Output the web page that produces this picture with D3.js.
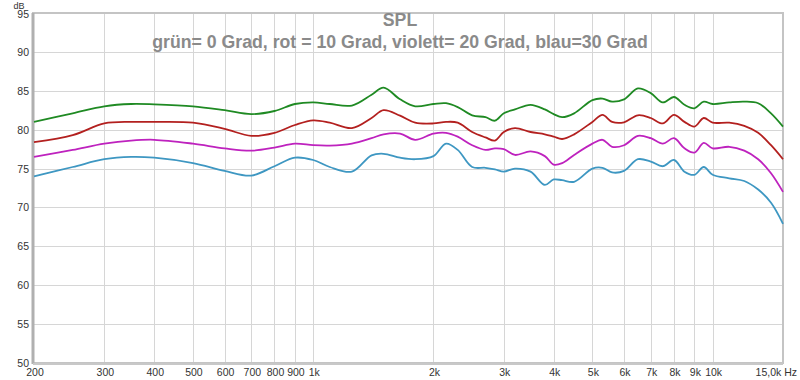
<!DOCTYPE html>
<html>
<head>
<meta charset="utf-8">
<script src="https://cdn.jsdelivr.net/npm/d3@7"></script>
<style>
  body { margin: 0; background: #fff; }
  svg { font-family: "Liberation Sans", Arial, sans-serif; }
</style>
</head>
<body>
<script>
// frequencies (Hz) shared by all four curves
var freqs = [200, 250, 300, 350, 400, 500, 600, 700, 800, 900, 1000, 1100, 1250, 1400, 1500, 1650, 1800,
             2000, 2150, 2300, 2500, 2700, 2850, 3000, 3200, 3500, 3800, 4000, 4200, 4500, 5000, 5300, 5600,
             6000, 6500, 7000, 7500, 8000, 8500, 9000, 9500, 10000, 11000, 12000, 13000, 14000, 15000];

// SPL in dB
var green0 = [81.0, 82.1, 83.0, 83.3, 83.25, 83.0, 82.5, 82.0, 82.4, 83.3, 83.5, 83.3, 83.1, 84.5, 85.4, 83.9, 83.0,
              83.3, 83.4, 82.9, 81.85, 81.6, 81.15, 82.1, 82.6, 83.2, 82.6, 82.0, 81.6, 82.1, 83.8, 84.0, 83.6,
              83.9, 85.3, 84.7, 83.5, 84.2, 83.2, 82.75, 83.6, 83.3, 83.5, 83.6, 83.4, 82.1, 80.4];
var red10 = [78.4, 79.3, 80.8, 81.0, 81.0, 80.9, 80.1, 79.2, 79.6, 80.6, 81.2, 80.9, 80.2, 81.5, 82.5, 81.8, 80.9,
             80.8, 81.0, 80.9, 79.7, 79.0, 78.6, 79.7, 80.2, 79.7, 79.4, 79.1, 78.8, 79.4, 81.0, 81.9, 81.0,
             80.95, 81.85, 81.5, 80.8, 81.9, 81.0, 80.4, 81.5, 80.9, 80.9, 80.5, 79.6, 78.0, 76.2];
var violet20 = [76.5, 77.4, 78.2, 78.6, 78.7, 78.2, 77.6, 77.3, 77.7, 78.2, 78.0, 77.95, 78.2, 78.9, 79.4, 79.5, 78.7,
                79.5, 79.6, 79.1, 78.0, 77.4, 77.6, 77.5, 76.75, 77.2, 76.6, 75.5, 75.7, 76.75, 78.2, 78.7, 77.8,
                78.0, 79.2, 78.9, 78.2, 78.9, 77.6, 77.05, 78.3, 77.6, 77.8, 77.3, 76.2, 74.4, 72.0];
var blue30 = [74.0, 75.2, 76.2, 76.5, 76.4, 75.7, 74.7, 74.1, 75.3, 76.4, 76.1, 75.2, 74.6, 76.7, 76.9, 76.4, 76.2,
              76.6, 78.2, 77.4, 75.2, 75.1, 74.9, 74.6, 75.0, 74.6, 72.9, 73.6, 73.5, 73.3, 75.0, 75.1, 74.5,
              74.7, 76.2, 75.9, 75.3, 76.1, 74.6, 74.2, 75.2, 74.2, 73.75, 73.4, 72.3, 70.6, 67.9];

var seriesNames = ["grün 0 Grad", "rot 10 Grad", "violett 20 Grad", "blau 30 Grad"];
var seriesColors = ["#1f8a23", "#b3201f", "#be22be", "#3e97c2"];

var xTicks = [200, 300, 400, 500, 600, 700, 800, 900, 1000, 2000, 3000, 4000, 5000, 6000, 7000, 8000, 9000, 10000];
var xTickLabels = ["200", "300", "400", "500", "600", "700", "800", "900", "1k", "2k", "3k", "4k", "5k", "6k", "7k", "8k", "9k", "10k"];
var yTicks = [50, 55, 60, 65, 70, 75, 80, 85, 90, 95];

var w = 800, h = 380;
var plotL = 34, plotR = 783, plotT = 13, plotB = 363;

var x = d3.scaleLog().domain([200, 15000]).range([plotL, plotR]);
var y = d3.scaleLinear().domain([50, 95]).range([plotB, plotT]);

var svg = d3.select("body").append("svg")
    .attr("width", w)
    .attr("height", h);

// grid
var grid = svg.append("g").attr("stroke", "#d6d6d6").attr("stroke-width", 1);
grid.selectAll("line.v")
    .data(xTicks.slice(1))
    .enter().append("line")
    .attr("x1", d => Math.round(x(d)) + 0.5)
    .attr("x2", d => Math.round(x(d)) + 0.5)
    .attr("y1", plotT)
    .attr("y2", plotB);
grid.selectAll("line.h")
    .data(yTicks.slice(1, -1))
    .enter().append("line")
    .attr("x1", plotL)
    .attr("x2", plotR)
    .attr("y1", d => Math.round(y(d)) + 0.5)
    .attr("y2", d => Math.round(y(d)) + 0.5);

// frame
svg.append("rect")
    .attr("x", plotL - 1)
    .attr("y", plotT)
    .attr("width", plotR - plotL + 1)
    .attr("height", plotB - plotT)
    .attr("fill", "none")
    .attr("stroke", "#c4c4c4")
    .attr("stroke-width", 2);
svg.append("line")
    .attr("x1", plotL - 1).attr("x2", plotL - 1)
    .attr("y1", plotT).attr("y2", plotB + 1)
    .attr("stroke", "#b0b0b0").attr("stroke-width", 3);
svg.append("line")
    .attr("x1", plotL - 1).attr("x2", plotR)
    .attr("y1", plotB + 1).attr("y2", plotB + 1)
    .attr("stroke", "#c8c8c8").attr("stroke-width", 2);

// curves
var line = d3.line()
    .x((d, i) => x(freqs[i]))
    .y(d => y(d))
    .curve(d3.curveCatmullRom.alpha(0.5));

svg.append("g")
    .selectAll("path")
    .data([green0, red10, violet20, blue30])
    .enter().append("path")
    .attr("d", line)
    .attr("fill", "none")
    .attr("stroke", (d, i) => seriesColors[i])
    .attr("stroke-width", 1.8)
    .attr("stroke-linejoin", "round");

// y labels
svg.append("g")
    .selectAll("text")
    .data(yTicks)
    .enter().append("text")
    .attr("x", 29)
    .attr("y", d => y(d) + (d === 95 ? 5 : 4))
    .attr("text-anchor", "end")
    .attr("font-size", 10.5)
    .attr("fill", "#333")
    .text(d => d);

svg.append("text")
    .attr("x", 19).attr("y", 8.5)
    .attr("text-anchor", "middle")
    .attr("font-size", 9)
    .attr("fill", "#333")
    .text("dB");

// x labels
svg.append("g")
    .selectAll("text")
    .data(xTicks)
    .enter().append("text")
    .attr("x", d => x(d) + 1)
    .attr("y", 376)
    .attr("text-anchor", "middle")
    .attr("font-size", 10.5)
    .attr("fill", "#333")
    .text((d, i) => xTickLabels[i]);

svg.append("text")
    .attr("x", 797).attr("y", 376)
    .attr("text-anchor", "end")
    .attr("font-size", 10.5)
    .attr("fill", "#333")
    .text("15,0k Hz");

// title
svg.append("text")
    .attr("x", 400).attr("y", 26)
    .attr("text-anchor", "middle")
    .attr("font-size", 17.7)
    .attr("font-weight", "bold")
    .attr("fill", "#8a8a8a")
    .text("SPL");
svg.append("text")
    .attr("x", 400).attr("y", 48)
    .attr("text-anchor", "middle")
    .attr("font-size", 17.7)
    .attr("font-weight", "bold")
    .attr("fill", "#8a8a8a")
    .text("grün= 0 Grad, rot = 10 Grad, violett= 20 Grad, blau=30 Grad");
</script>
</body>
</html>
